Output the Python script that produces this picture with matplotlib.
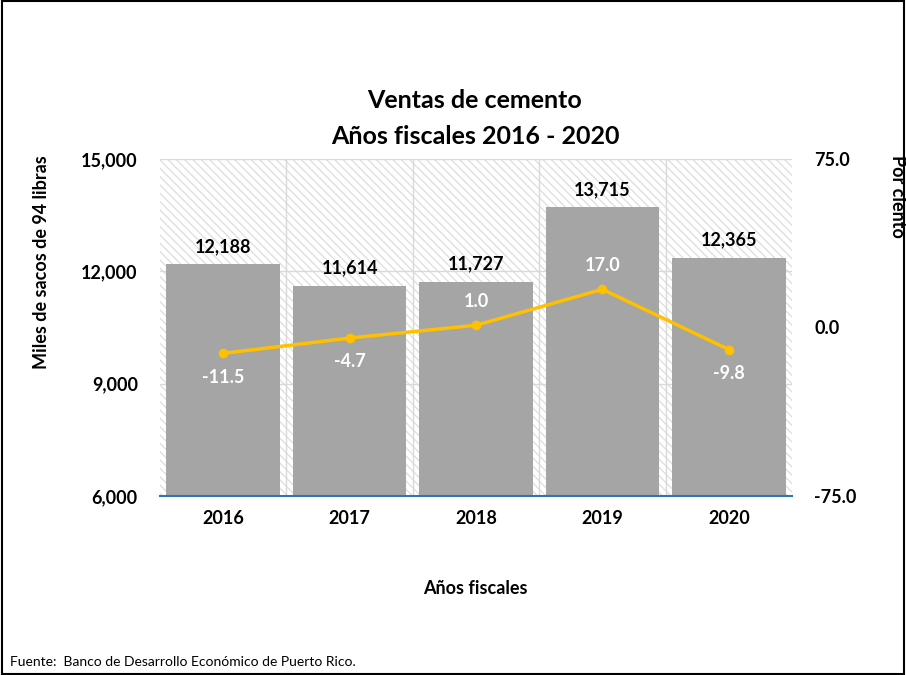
import matplotlib.pyplot as plt
from matplotlib.patches import Rectangle
import numpy as np

plt.rcParams['font.family'] = ['Lato', 'DejaVu Sans']
plt.rcParams['hatch.color'] = '#e0e0e0'

years = ['2016', '2017', '2018', '2019', '2020']
ventas = [12188, 11614, 11727, 13715, 12365]
cambio = [-11.5, -4.7, 1.0, 17.0, -9.8]
cambio_pos = ['below', 'below', 'above', 'above', 'below']

fig = plt.figure(figsize=(9.06, 6.75), dpi=100)
ax = fig.add_axes([160/906, 1-496/675, 632/906, 337/675])

x = np.arange(len(years))

# fondo rayado del area de trazado
ax.add_patch(Rectangle((0, 0), 1, 1, transform=ax.transAxes, facecolor='white',
                       edgecolor='#e0e0e0', hatch='\\\\\\\\', linewidth=0, zorder=0))

bars = ax.bar(x, ventas, width=0.9, bottom=0, color='#a5a5a5', zorder=2)
ax.set_xlim(-0.5, 4.5)
ax.set_ylim(6000, 15000)
ax.set_yticks([6000, 9000, 12000, 15000])
ax.set_yticklabels(['{:,}'.format(v) for v in [6000, 9000, 12000, 15000]],
                   fontsize=13, fontweight='bold')
ax.set_xticks(x)
ax.set_xticklabels(years, fontsize=13, fontweight='bold')
ax.tick_params(axis='y', length=0, pad=16)
ax.tick_params(axis='x', length=0, pad=10)
ax.grid(axis='y', color='#d9d9d9', linewidth=1, zorder=1)
for b in [0.5, 1.5, 2.5, 3.5]:
    ax.axvline(b, color='#d9d9d9', linewidth=1, zorder=1)
for s in ['top', 'left', 'right']:
    ax.spines[s].set_visible(False)
ax.spines['bottom'].set_color('#2e75b6')
ax.spines['bottom'].set_linewidth(1.5)
ax.spines['bottom'].set_zorder(5)

for xi, v in zip(x, ventas):
    ax.text(xi, v + 250, '{:,}'.format(v), ha='center', va='bottom',
            fontsize=13, fontweight='bold', zorder=6)

ax2 = ax.twinx()
ax2.plot(x, cambio, color='#ffc000', linewidth=2.5, marker='o', markersize=6, zorder=4)
ax2.set_ylim(-75, 75)
ax2.set_yticks([-75, 0, 75])
ax2.set_yticklabels(['{:.1f}'.format(v) for v in [-75, 0, 75]], fontsize=13, fontweight='bold')
ax2.tick_params(length=0, pad=16)
for s in ['top', 'left', 'right', 'bottom']:
    ax2.spines[s].set_visible(False)

for xi, v, p in zip(x, cambio, cambio_pos):
    dy = -11 if p == 'below' else 11
    ax2.annotate('{:.1f}'.format(v), (xi, v), xytext=(0, dy), textcoords='offset points',
                 ha='center', va='top' if p == 'below' else 'bottom',
                 color='white', fontsize=13, fontweight='bold')

fig.text(42/906, 1-262/675, 'Miles de sacos de 94 libras', rotation=90, ha='center',
         va='center', fontsize=13, fontweight='bold')
fig.text(897/906, 1-155/675, 'Por ciento', rotation=-90, ha='center', va='top',
         fontsize=13, fontweight='bold')

fig.text(475/906, 1-101/675, 'Ventas de cemento', ha='center', va='center',
         fontsize=18, fontweight='bold')
fig.text(475/906, 1-136/675, 'Años fiscales 2016 - 2020', ha='center', va='center',
         fontsize=18, fontweight='bold')
fig.text(475/906, 1-588/675, 'Años fiscales', ha='center', va='center',
         fontsize=13, fontweight='bold')
fig.text(10/906, 1-662/675, 'Fuente:  Banco de Desarrollo Económico de Puerto Rico.',
         ha='left', va='center', fontsize=10)

fig.add_artist(Rectangle((0.002, 0.002), 0.996, 0.996, transform=fig.transFigure,
                         fill=False, edgecolor='black', linewidth=1.5))

fig.savefig('out.png', dpi=100)
